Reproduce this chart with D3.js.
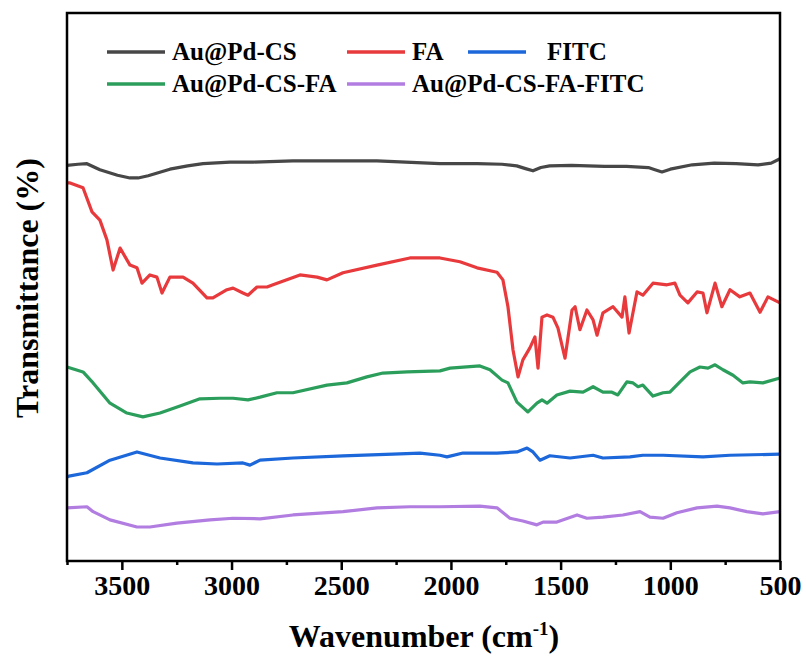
<!DOCTYPE html>
<html>
<head>
<meta charset="utf-8">
<script src="https://cdn.jsdelivr.net/npm/d3@7"></script>
<style>
  body { margin: 0; background: #fff; }
  svg text { font-family: "Liberation Serif", "Times New Roman", Tinos, Times, "DejaVu Serif", serif; font-weight: bold; fill: #000; }
</style>
</head>
<body>
<svg id="chart" width="806" height="661"></svg>
<script>
// series names and colours
const seriesNames = ["Au@Pd-CS", "FA", "FITC", "Au@Pd-CS-FA", "Au@Pd-CS-FA-FITC"];
const seriesColors = ["#474747", "#e83a3c", "#1c67da", "#2c9e5c", "#b27de0"];

// [wavenumber, transmittance]
const auPdCS = [
  [3750, 72.2], [3700, 72.4], [3659, 72.5], [3600, 71.4], [3520, 70.4], [3463, 69.9],
  [3426, 69.9], [3380, 70.3], [3281, 71.5], [3200, 72.1], [3130, 72.5], [3007, 72.8],
  [2900, 72.8], [2720, 73.0], [2500, 73.0], [2337, 73.0], [2050, 72.5], [1880, 72.5],
  [1767, 72.4], [1700, 72.1], [1660, 71.6], [1626, 71.2], [1590, 71.8], [1550, 72.1],
  [1450, 72.2], [1300, 72.0], [1200, 72.0], [1100, 71.8], [1070, 71.4], [1038, 71.0],
  [1000, 71.5], [900, 72.3], [800, 72.6], [700, 72.5], [600, 72.3], [540, 72.6], [500, 73.4]
];

const fa = [
  [3750, 69.0], [3736, 69.0], [3677, 68.1], [3636, 63.7], [3600, 62.2], [3568, 58.6],
  [3540, 53.1], [3508, 57.1], [3463, 54.0], [3431, 53.5], [3408, 50.7], [3372, 52.2],
  [3340, 51.8], [3317, 48.9], [3281, 51.8], [3221, 51.8], [3176, 50.7], [3112, 48.0],
  [3085, 48.0], [3021, 49.5], [2993, 49.8], [2948, 48.9], [2925, 48.5], [2884, 50.0],
  [2838, 50.0], [2811, 50.4], [2688, 52.2], [2610, 51.8], [2565, 51.3], [2492, 52.6],
  [2337, 54.0], [2187, 55.3], [2050, 55.3], [1959, 54.6], [1881, 53.5], [1790, 52.7],
  [1763, 51.3], [1740, 46.4], [1717, 38.5], [1694, 33.6], [1672, 36.7], [1640, 38.9],
  [1617, 40.9], [1603, 35.2], [1585, 44.5], [1562, 44.9], [1535, 44.5], [1512, 42.5],
  [1480, 37.0], [1448, 45.8], [1434, 46.4], [1412, 42.2], [1380, 45.8], [1352, 44.0],
  [1334, 41.2], [1307, 45.3], [1261, 46.4], [1220, 44.5], [1207, 48.2], [1188, 41.6],
  [1152, 49.1], [1125, 48.5], [1079, 50.7], [1015, 50.4], [979, 50.7], [956, 48.5],
  [920, 47.1], [878, 49.1], [851, 48.9], [833, 45.3], [796, 50.7], [765, 46.4],
  [728, 49.5], [683, 48.2], [637, 48.9], [591, 45.4], [555, 48.2], [500, 47.1]
];

const fitc = [
  [3750, 15.3], [3741, 15.5], [3659, 16.1], [3554, 18.4], [3431, 19.9], [3326, 18.8],
  [3176, 17.9], [3066, 17.7], [2948, 17.9], [2916, 17.5], [2870, 18.4], [2720, 18.8],
  [2492, 19.2], [2264, 19.5], [2141, 19.7], [2050, 19.3], [2018, 19.0], [1945, 19.7],
  [1790, 19.7], [1699, 19.9], [1653, 20.6], [1626, 19.9], [1594, 18.4], [1549, 19.2],
  [1457, 18.8], [1352, 19.3], [1307, 18.8], [1184, 19.0], [1125, 19.3], [1033, 19.3],
  [851, 19.0], [728, 19.3], [500, 19.5]
];

const auPdCSFA = [
  [3750, 35.4], [3677, 34.5], [3631, 32.5], [3554, 28.8], [3477, 27.0], [3404, 26.3],
  [3326, 27.0], [3235, 28.3], [3144, 29.6], [3053, 29.7], [2993, 29.7], [2925, 29.4],
  [2870, 29.9], [2793, 30.7], [2720, 30.7], [2565, 32.1], [2474, 32.5], [2383, 33.6],
  [2310, 34.3], [2200, 34.5], [2050, 34.7], [2004, 35.2], [1868, 35.6], [1822, 34.9],
  [1767, 33.0], [1740, 32.5], [1699, 29.0], [1649, 27.2], [1608, 28.8], [1585, 29.4],
  [1562, 28.8], [1517, 30.3], [1457, 31.0], [1398, 30.8], [1352, 31.8], [1307, 30.8],
  [1266, 30.8], [1239, 30.3], [1198, 32.7], [1170, 32.5], [1147, 31.8], [1125, 32.1],
  [1079, 30.1], [1033, 30.7], [1002, 30.8], [956, 32.7], [910, 34.5], [865, 35.4],
  [828, 35.2], [796, 35.8], [760, 34.9], [714, 33.9], [669, 32.5], [637, 32.7],
  [578, 32.5], [500, 33.4]
];

const auPdCSFAFITC = [
  [3750, 9.7], [3659, 9.9], [3631, 9.0], [3554, 7.5], [3431, 6.2], [3372, 6.2],
  [3249, 6.9], [3098, 7.5], [2993, 7.8], [2870, 7.7], [2720, 8.4], [2492, 9.0],
  [2337, 9.7], [2187, 9.9], [2050, 9.9], [1868, 10.0], [1790, 9.7], [1731, 7.8],
  [1672, 7.3], [1608, 6.6], [1580, 7.1], [1517, 7.1], [1425, 8.4], [1380, 7.8],
  [1307, 8.0], [1216, 8.4], [1138, 9.0], [1093, 8.0], [1033, 7.8], [970, 8.8],
  [878, 9.7], [787, 10.0], [728, 9.7], [651, 9.0], [578, 8.6], [500, 9.0]
];

const seriesData = [auPdCS, fa, fitc, auPdCSFA, auPdCSFAFITC];

// axis ticks
const xMajorTicks = [3500, 3000, 2500, 2000, 1500, 1000, 500];
const xMinorTicks = [3750, 3250, 2750, 2250, 1750, 1250, 750];

const serif = '"Liberation Serif", "Times New Roman", Tinos, Times, "DejaVu Serif", serif';
const margin = { left: 67, right: 26, top: 13, bottom: 100 };
const width = 806, height = 661;
const svg = d3.select("#chart");

const x = d3.scaleLinear().domain([3750, 500]).range([margin.left, width - margin.right]);
const y = d3.scaleLinear().domain([0, 100]).range([height - margin.bottom, margin.top]);

const line = d3.line()
  .x((d) => x(d[0]))
  .y((d) => y(d[1]));

// spectra
svg.append("g")
  .selectAll("path")
  .data(seriesData)
  .join("path")
  .attr("d", line)
  .attr("fill", "none")
  .attr("stroke", (d, i) => seriesColors[i])
  .attr("stroke-width", 3.2)
  .attr("stroke-linejoin", "round");

// frame
svg.append("rect")
  .attr("x", margin.left)
  .attr("y", margin.top)
  .attr("width", width - margin.right - margin.left)
  .attr("height", height - margin.bottom - margin.top)
  .attr("fill", "none")
  .attr("stroke", "#000")
  .attr("stroke-width", 2.5);

// bottom axis, majors with labels
const xAxis = svg.append("g")
  .attr("transform", `translate(0,${height - margin.bottom})`)
  .call(d3.axisBottom(x).tickValues(xMajorTicks).tickSize(9).tickPadding(5).tickFormat(d3.format("d")));
xAxis.attr("font-family", serif).attr("font-size", 28);
xAxis.select(".domain").remove();
xAxis.selectAll(".tick line").attr("stroke", "#000").attr("stroke-width", 2.5);
xAxis.selectAll(".tick text")
  .style("font-family", serif)
  .style("font-weight", "bold")
  .style("font-size", "28px")
  .attr("fill", "#000");

// minor ticks
const xMinor = svg.append("g")
  .attr("transform", `translate(0,${height - margin.bottom})`)
  .call(d3.axisBottom(x).tickValues(xMinorTicks).tickSize(4).tickFormat(""));
xMinor.select(".domain").remove();
xMinor.selectAll(".tick line").attr("stroke", "#000").attr("stroke-width", 2.5);

// axis titles
const xTitle = svg.append("text")
  .attr("x", 424)
  .attr("y", 647)
  .attr("text-anchor", "middle")
  .style("font-family", serif)
  .style("font-size", "32px");
xTitle.append("tspan").text("Wavenumber (cm");
xTitle.append("tspan").text("-1").attr("dy", -12).style("font-size", "19px");
xTitle.append("tspan").text(")").attr("dy", 12);

svg.append("text")
  .attr("transform", "translate(38,288) rotate(-90)")
  .attr("text-anchor", "middle")
  .style("font-family", serif)
  .style("font-size", "32px")
  .text("Transmittance (%)");

// legend
const legendItems = [
  { i: 0, lx: 107, ly: 52, tx: 172 },
  { i: 1, lx: 347, ly: 52, tx: 412 },
  { i: 2, lx: 468, ly: 52, tx: 547 },
  { i: 3, lx: 107, ly: 84, tx: 172 },
  { i: 4, lx: 347, ly: 84, tx: 412 }
];

const legend = svg.append("g")
  .selectAll("g")
  .data(legendItems)
  .join("g");

legend.append("line")
  .attr("x1", (d) => d.lx)
  .attr("x2", (d) => d.lx + 58)
  .attr("y1", (d) => d.ly)
  .attr("y2", (d) => d.ly)
  .attr("stroke", (d) => seriesColors[d.i])
  .attr("stroke-width", 3.5);

legend.append("text")
  .attr("x", (d) => d.tx)
  .attr("y", (d) => d.ly + 8)
  .style("font-family", serif)
  .style("font-size", "25px")
  .text((d) => seriesNames[d.i]);
</script>
</body>
</html>
